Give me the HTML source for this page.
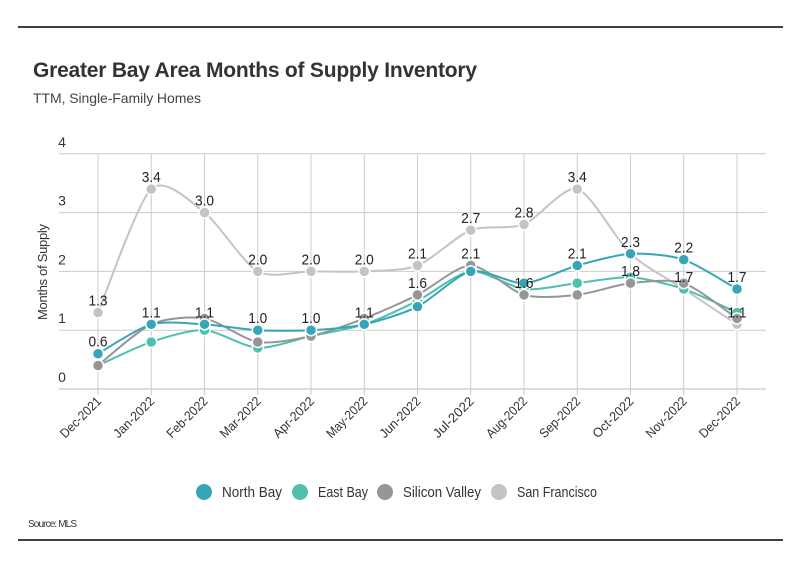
<!DOCTYPE html>
<html><head><meta charset="utf-8">
<style>
body{margin:0;background:#fff;}
svg text{font-family:"Liberation Sans",sans-serif;}
</style></head>
<body>
<svg id="c" width="801" height="575" xmlns="http://www.w3.org/2000/svg">
<line x1="18" y1="27" x2="783" y2="27" stroke="#000" stroke-width="1.5"/>
<text x="33" y="77" font-size="21" font-weight="bold" fill="#333" textLength="444">Greater Bay Area Months of Supply Inventory</text>
<text x="33" y="103" font-size="14" fill="#444" textLength="168">TTM, Single-Family Homes</text>
<text transform="translate(47,272) rotate(-90)" text-anchor="middle" font-size="13" fill="#333" textLength="96">Months of Supply</text>
<g id="grid"></g><g id="lines"></g><g id="labels"></g>
<g id="legend"></g>
<text x="28" y="527" font-size="10" fill="#333" textLength="49">Source: MLS</text>
<line x1="18" y1="540" x2="783" y2="540" stroke="#000" stroke-width="1.5"/>
</svg>
<script>
const categories=["Dec-2021","Jan-2022","Feb-2022","Mar-2022","Apr-2022","May-2022","Jun-2022","Jul-2022","Aug-2022","Sep-2022","Oct-2022","Nov-2022","Dec-2022"];
const northBay=[0.6,1.1,1.1,1.0,1.0,1.1,1.4,2.0,1.8,2.1,2.3,2.2,1.7];
const eastBay=[0.4,0.8,1.0,0.7,0.9,1.1,1.5,2.0,1.7,1.8,1.9,1.7,1.3];
const siliconValley=[0.4,1.1,1.2,0.8,0.9,1.2,1.6,2.1,1.6,1.6,1.8,1.8,1.2];
const sanFrancisco=[1.3,3.4,3.0,2.0,2.0,2.0,2.1,2.7,2.8,3.4,2.3,1.7,1.1];
const yTicks=[0,1,2,3,4];
const northBayLabelIdx=[0,1,2,3,4,5,9,11,12];
const siliconValleyLabelIdx=[6,7,8,10];
const NS="http://www.w3.org/2000/svg";
const x=i=>98+i*53.25;
const y=v=>389-v*58.8;
function mk(t,a,p){const e=document.createElementNS(NS,t);for(const k in a)e.setAttribute(k,a[k]);(p||document.getElementById('c')).appendChild(e);return e;}
const grid=document.getElementById('grid');
yTicks.forEach(t=>{
  const l=mk('line',{x1:59,x2:766,y1:y(t),y2:y(t),stroke:t===0?'#bbb':'#ccc','stroke-width':1},grid);
  
  
  const tx=mk('text',{x:62,y:y(t)-7,'font-size':14,fill:'#333','text-anchor':'middle'},grid);
  tx.textContent=t;
  
  
});
categories.forEach((c,i)=>{
  const l=mk('line',{x1:x(i),x2:x(i),y1:154,y2:395,stroke:'#ccc','stroke-width':1},grid);
  
  
  const tx=mk('text',{transform:`translate(${x(i)+4},${402}) rotate(-45)`,'font-size':13,fill:'#333','text-anchor':'end',textLength:52,lengthAdjust:'spacingAndGlyphs'},grid);
  tx.textContent=c;
  
  
});
function path(vals){
  const p=vals.map((v,i)=>[x(i),y(v)]);let d=`M${p[0][0]},${p[0][1]}`;
  for(let i=0;i<p.length-1;i++){const p0=p[i-1]||p[i],p1=p[i],p2=p[i+1],p3=p[i+2]||p2;const t=0.13;
    d+=` C${p1[0]+(p2[0]-p0[0])*t},${p1[1]+(p2[1]-p0[1])*t} ${p2[0]-(p3[0]-p1[0])*t},${p2[1]-(p3[1]-p1[1])*t} ${p2[0]},${p2[1]}`;}
  return d;}
const series=[["san-francisco",sanFrancisco,"#c4c4c4"],["east-bay",eastBay,"#4fc0ad"],["silicon-valley",siliconValley,"#969696"],["north-bay",northBay,"#36a6b6"]];
const lines=document.getElementById('lines');
series.forEach(([n,vals,col])=>{
  const g=mk('g',{},lines);
  
  
  const pa=mk('path',{d:path(vals),fill:'none',stroke:col,'stroke-width':2},g);
  
  
  vals.forEach((v,i)=>{
    const c=mk('circle',{cx:x(i),cy:y(v),r:5.5,fill:col,stroke:'#fff','stroke-width':1.5},g);
    
    
  });
});
const labels=document.getElementById('labels');
function lab(vals,i,n){
  const t=mk('text',{x:x(i),y:y(vals[i])-7,'font-size':15,fill:'#222','text-anchor':'middle',textLength:19,lengthAdjust:'spacingAndGlyphs'},labels);
  t.textContent=vals[i].toFixed(1);
  
  
}
sanFrancisco.forEach((v,i)=>lab(sanFrancisco,i,'san-francisco'));
northBayLabelIdx.forEach(i=>lab(northBay,i,'north-bay'));
siliconValleyLabelIdx.forEach(i=>lab(siliconValley,i,'silicon-valley'));
const legend=document.getElementById('legend');
[["North Bay","#36a6b6",204,60],["East Bay","#4fc0ad",300,50],["Silicon Valley","#969696",385,78],["San Francisco","#c4c4c4",499,80]].forEach(([n,col,lx,w])=>{
  const g=mk('g',{},legend);
  
  
  mk('circle',{cx:lx,cy:492,r:8,fill:col},g);
  const t=mk('text',{x:lx+18,y:497,'font-size':15,fill:'#333',textLength:w,lengthAdjust:'spacingAndGlyphs'},g);
  t.textContent=n;
});
</script>
</body></html>
